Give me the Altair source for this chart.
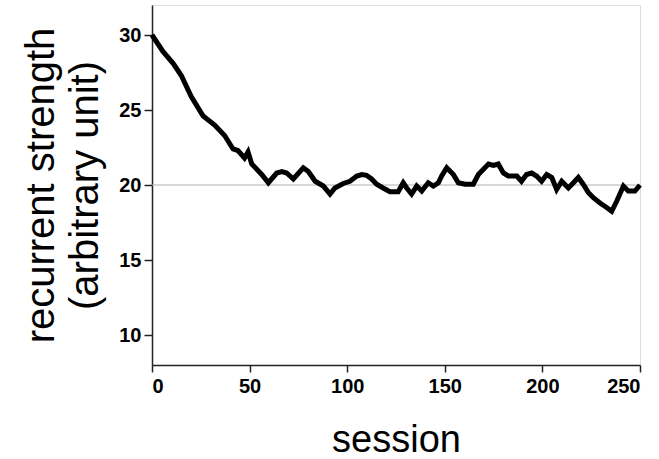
import altair as alt
import pandas as pd

session = [0, 5.6, 10.9, 15, 20.1, 26.2, 32.1, 37.2, 41.5, 44, 47.4, 49.2, 51.1, 56.2, 59.6,
           63.9, 66.5, 69, 72.4, 77.5, 80.1, 83.6, 87.8, 91.2, 93.7, 98, 101.4, 104.9, 107.5,
           109.9, 112.5, 115.1, 118.4, 121.9, 126.1, 128.7, 130.5, 133, 135.6, 138.2, 141.5,
           144.1, 146.7, 148.4, 151, 154.4, 156.9, 160.4, 164.6, 167.2, 169.8, 172.4, 174.9,
           177.4, 180, 182.5, 186.9, 189.3, 191.9, 194.5, 197, 199.6, 202.2, 204.8, 207.3,
           209.9, 213.3, 215.9, 218.4, 220.9, 223.5, 226.1, 229.5, 232.9, 235.5, 238, 241.5,
           244, 247.4, 250]
strength = [30.0, 28.9, 28.1, 27.3, 25.9, 24.6, 24.0, 23.3, 22.4, 22.3, 21.8, 22.2, 21.4, 20.7,
            20.15, 20.8, 20.9, 20.8, 20.4, 21.15, 20.9, 20.25, 19.93, 19.4, 19.8, 20.1, 20.25,
            20.6, 20.7, 20.65, 20.4, 20.05, 19.8, 19.55, 19.55, 20.15, 19.8, 19.4, 19.93, 19.6,
            20.15, 19.93, 20.15, 20.6, 21.15, 20.7, 20.15, 20.05, 20.05, 20.7, 21.05, 21.4, 21.3,
            21.4, 20.8, 20.6, 20.6, 20.25, 20.7, 20.8, 20.6, 20.25, 20.7, 20.5, 19.7, 20.25, 19.8,
            20.15, 20.5, 20.05, 19.5, 19.15, 18.8, 18.5, 18.25, 18.9, 19.93, 19.6, 19.6, 20.0]
ref_value = [20]

df = pd.DataFrame({"session": session, "strength": strength})
ref = pd.DataFrame({"y": ref_value})

FONT = "Liberation Sans"

x_scale = alt.Scale(domain=[0, 250], nice=False, zero=False)
y_scale = alt.Scale(domain=[8, 32], nice=False, zero=False)

x_axis = alt.Axis(
    title="session", values=[0, 50, 100, 150, 200, 250], grid=False,
    labelFont=FONT, labelFontSize=20, labelFontWeight="bold", labelColor="black",
    labelPadding=4, tickSize=7, tickColor="#222", tickWidth=1.5,
    domainColor="#222", domainWidth=1.5,
    titleFont=FONT, titleFontSize=38, titleFontWeight="normal", titleColor="black",
    titleY=86, titleBaseline="alphabetic",
)
y_axis = alt.Axis(
    title=["recurrent strength", "(arbitrary unit)"], values=[10, 15, 20, 25, 30], grid=False,
    labelFont=FONT, labelFontSize=20, labelFontWeight="bold", labelColor="black",
    labelPadding=3, tickSize=8, tickColor="#222", tickWidth=1.5,
    domainColor="#222", domainWidth=1.5,
    titleFont=FONT, titleFontSize=40, titleFontWeight="normal", titleColor="black",
    titleLineHeight=44, titleX=-131, titleY=180, titleBaseline="top", titleAlign="center",
    titleAngle=270,
)

refline = alt.Chart(ref).mark_rule(color="#b0b0b0", strokeWidth=1.2).encode(
    y=alt.Y("y:Q", scale=y_scale, axis=y_axis),
)

line = alt.Chart(df).mark_line(color="black", strokeWidth=5, strokeJoin="miter").encode(
    x=alt.X("session:Q", scale=x_scale, axis=x_axis),
    y=alt.Y("strength:Q", scale=y_scale, axis=y_axis),
)

chart = alt.layer(refline, line).properties(
    width=488, height=360,
    padding={"left": 152, "top": 5, "right": 19, "bottom": 94},
    autosize=alt.AutoSizeParams(type="none"),
).configure_view(stroke=None).configure(background="white")

chart.save("out.html", embed_options={"renderer": "svg", "actions": False})
